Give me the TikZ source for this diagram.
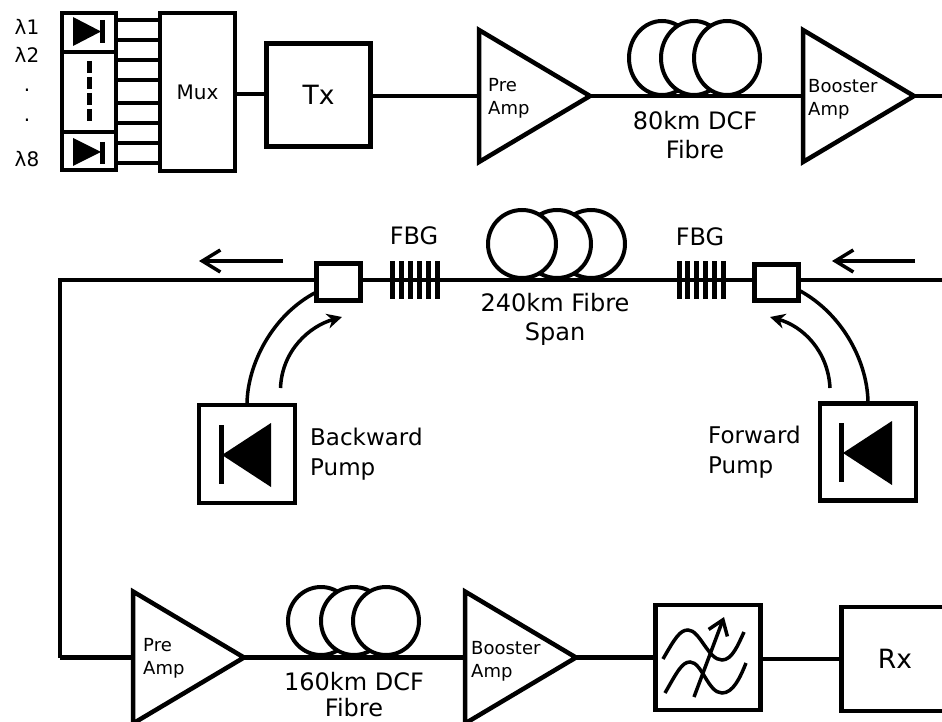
\documentclass[tikz,border=0pt]{standalone}
\usepackage{fontspec}
\setmainfont{DejaVu Sans}
\usetikzlibrary{arrows.meta, shapes.geometric, positioning}

\begin{document}
\begin{tikzpicture}[x=1pt, y=-1pt,
        box/.style={draw, line width=4.5pt, fill=white, inner sep=0pt, outer sep=0pt, align=center},
        amp/.style={draw, line width=4.5pt, isosceles triangle, isosceles triangle stretches,
                    minimum width=132pt, minimum height=111pt, inner sep=0pt, outer sep=0pt,
                    anchor=lower side},
        coil/.style={draw, ellipse, line width=4pt, fill=white, inner sep=0pt, outer sep=0pt,
                     minimum width=66pt, minimum height=74pt},
        fibre/.style={line width=4.7pt},
        pumpline/.style={line width=3.5pt},
        flow/.style={line width=3.5pt, -{Straight Barb[length=18pt, width=22pt]}},
        pumpflow/.style={line width=3.5pt, -{Stealth[length=15pt, width=15pt]}},
        txtbig/.style={font=\fontsize{26.5}{30}\selectfont},
        txtmed/.style={align=center, inner sep=0pt, font=\fontsize{24}{29}\selectfont},
        txtamp/.style={align=left, inner sep=0pt, anchor=west, font=\fontsize{18}{23}\selectfont},
        txtwave/.style={inner sep=0pt, font=\fontsize{20}{24}\selectfont}
      ]
        \useasboundingbox (0,0) rectangle (942,722);

        \node[box, minimum width=54pt, minimum height=39pt] (lasTop) at (89,32.5) {};
        \node[box, minimum width=54pt, minimum height=80pt] (lasMid) at (89,92) {};
        \node[box, minimum width=54pt, minimum height=38pt] (lasBot) at (89,151) {};
        \node[box, minimum width=75pt, minimum height=158pt, font=\fontsize{20}{24}\selectfont] (mux) at (197.5,92) {Mux};
        \node[box, txtbig, minimum width=104pt, minimum height=103pt] (tx) at (318.5,95) {Tx};
        \node[amp] (preTop) at (479,96) {};
        \node[amp] (boostTop) at (803,96) {};
        \node[coil] (dcfTopA) at (662,58) {};
        \node[coil] (dcfTopB) at (694,58) {};
        \node[coil] (dcfTopC) at (727,58) {};
        \coordinate (topEnd) at (942,96);

        \foreach \y in {20,40,60,80,103,123,143,163}
          \draw[fibre] (lasTop.east |- 0,\y) -- (mux.west |- 0,\y);
        \draw[fibre] (mux.east |- 0,94) -- (tx.west |- 0,94);
        \draw[fibre] (tx.east |- preTop.lower side) -- (preTop.lower side);
        \draw[fibre] (preTop.apex) -- (boostTop.lower side);
        \draw[fibre] (boostTop.apex) -- (topEnd);

        \fill (73,17) -- (101,31.5) -- (73,46) -- cycle;
        \fill (73,138) -- (101,152) -- (73,166) -- cycle;
        \draw[line width=5pt] (102.5,20) -- (102.5,43);
        \draw[line width=5pt] (102.5,142) -- (102.5,164);
        \draw[line width=4.5pt, dash pattern=on 12pt off 4pt] (89.5,61) -- (89.5,121);

        \node[txtwave] (lamOne) at (27,27) {λ1};
        \node[txtwave] (lamTwo) at (27,55) {λ2};
        \node[txtwave] (dotOne) at (27,90) {.};
        \node[txtwave] (dotTwo) at (27,120) {.};
        \node[txtwave] (lamEight) at (27,159) {λ8};
        \node[txtamp] (preTopTxt) at (488,98.5) {Pre\\Amp};
        \node[txtamp] (boostTopTxt) at (808,99.5) {Booster\\Amp};
        \node[txtmed] (dcfTopTxt) at (695,135) {80km DCF\\Fibre};

        % middle span
        \node[coil, minimum width=68pt, minimum height=68pt] (spanC) at (591,244) {};
        \node[coil, minimum width=68pt, minimum height=68pt] (spanB) at (557,244) {};
        \node[coil, minimum width=68pt, minimum height=68pt] (spanA) at (522,244) {};
        \node[box, line width=5pt, minimum width=44pt, minimum height=37pt] (cplLeft) at (338.5,282) {};
        \node[box, line width=5pt, minimum width=44pt, minimum height=36pt] (cplRight) at (776.5,282.5) {};
        \node[box, minimum width=96pt, minimum height=98pt] (pumpBack) at (247,454) {};
        \node[box, minimum width=96pt, minimum height=97pt] (pumpFwd) at (868,452) {};
        \coordinate (midEnd) at (942,280);
        \coordinate (midCorner) at (60,280);
        \coordinate (lowCorner) at (60,657.5);

        \draw[fibre, line width=4pt] (midEnd) -- (cplRight.east |- midEnd);
        \draw[fibre, line width=4pt] (cplRight.west |- midEnd) -- (cplLeft.east |- midEnd);
        \draw[fibre, line width=4.5pt] (cplLeft.west |- midEnd) -- (midCorner) -- (lowCorner);
        \foreach \x in {392.5,401.4,410.3,419.2,428.1,437} {
          \draw[line width=5pt] (\x,261) -- (\x,299);
          \draw[line width=5pt] (\x+286.5,261) -- (\x+286.5,299);
        }

        \draw[pumpline] (pumpBack.north) .. controls (247,365) and (272,315) .. (cplLeft.west |- 0,292);
        \draw[pumpline] (pumpFwd.north) .. controls (868,365) and (845,315) .. (cplRight.east |- 0,290);
        \coordinate (backFrom) at (280.5,388);
        \coordinate (backTo) at (342,317);
        \coordinate (fwdFrom) at (830,388);
        \coordinate (fwdTo) at (770,317);
        \draw[pumpflow] (backFrom) .. controls (282,350) and (310,326) .. (backTo);
        \draw[pumpflow] (fwdFrom) .. controls (828,350) and (802,326) .. (fwdTo);
        \coordinate (flowLeftA) at (283,261);
        \coordinate (flowLeftB) at (199,261);
        \coordinate (flowRightA) at (915,261);
        \coordinate (flowRightB) at (832,261);
        \draw[flow] (flowLeftA) -- (flowLeftB);
        \draw[flow] (flowRightA) -- (flowRightB);

        \fill (222,455) -- (271,423) -- (271,487) -- cycle;
        \fill (843,453) -- (892,421) -- (892,485) -- cycle;
        \draw[line width=5pt] (221.5,425) -- (221.5,484);
        \draw[line width=5pt] (841,423) -- (841,482);

        \node[txtmed] (fbgLeft) at (414,236) {FBG};
        \node[txtmed] (fbgRight) at (700,237) {FBG};
        \node[txtmed] (spanTxt) at (555,319) {240km Fibre\\Span};
        \node[txtamp, font=\fontsize{23}{30}\selectfont] (pumpBackTxt) at (310,454) {Backward\\Pump};
        \node[txtamp, font=\fontsize{23}{30}\selectfont] (pumpFwdTxt) at (708,452) {Forward\\Pump};

        % receiver side
        \node[amp] (preLow) at (133,657.5) {};
        \node[amp] (boostLow) at (465,657.5) {};
        \node[coil, minimum height=68pt] (dcfLowA) at (321,621) {};
        \node[coil, minimum height=68pt] (dcfLowB) at (354,621) {};
        \node[coil, minimum height=68pt] (dcfLowC) at (386,621) {};
        \node[box, minimum width=105pt, minimum height=105pt] (filter) at (708,657.5) {};
        \node[box, txtbig, minimum width=107pt, minimum height=104pt] (rx) at (895,659) {Rx};

        \draw[fibre] (lowCorner) -- (preLow.lower side);
        \draw[fibre] (preLow.apex) -- (boostLow.lower side);
        \draw[fibre] (boostLow.apex) -- (filter.west |- boostLow.apex);
        \draw[fibre] (filter.east |- rx.west) -- (rx.west);

        \draw[pumpline] (663,659) .. controls (675,638) and (680,630) .. (688,630)
          .. controls (700,630) and (708,660) .. (722,660)
          .. controls (732,660) and (738,645) .. (744,632);
        \draw[pumpline] (665,693) .. controls (677,672) and (682,662) .. (690,662)
          .. controls (702,662) and (708,693) .. (722,693)
          .. controls (733,693) and (740,678) .. (746,663);
        \coordinate (tuneFrom) at (694,697);
        \coordinate (tuneTo) at (724,617);
        \draw[line width=3.5pt, -{Straight Barb[length=14pt, width=20pt]}] (tuneFrom) -- (tuneTo);

        \node[txtamp] (preLowTxt) at (143,658.5) {Pre\\Amp};
        \node[txtamp] (boostLowTxt) at (471,661) {Booster\\Amp};
        \node[txtmed, font=\fontsize{24}{26}\selectfont] (dcfLowTxt) at (354,695) {160km DCF\\Fibre};
      \end{tikzpicture}
\end{document}
